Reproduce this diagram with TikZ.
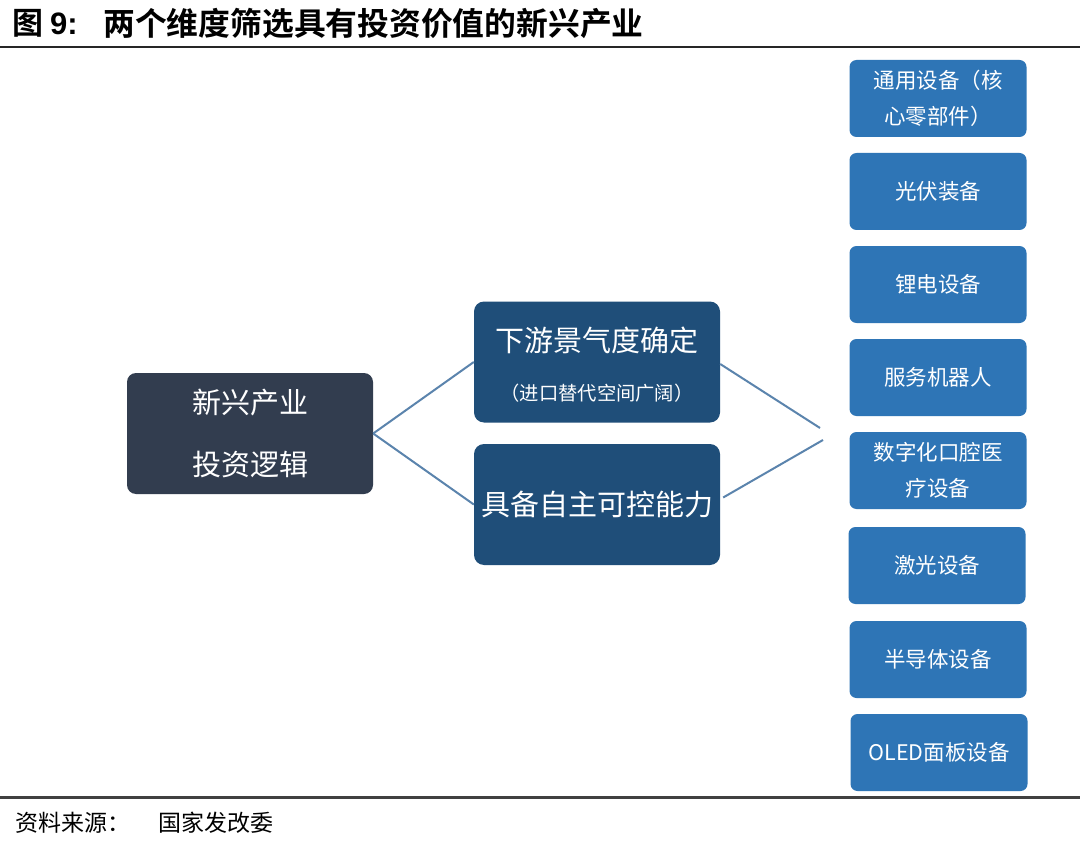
\documentclass[tikz,border=0pt]{standalone}
\usepackage{fontspec}
\setmainfont{Noto Sans CJK SC}
\newfontfamily\cjkb{Noto Sans CJK SC Bold}
\newfontfamily\arialb{Liberation Sans Bold}
\definecolor{darkbox}{HTML}{323D4F}
\definecolor{midbox}{HTML}{1F4E79}
\definecolor{rightbox}{HTML}{2E75B6}
\definecolor{conn}{HTML}{5B84AD}
\begin{document}
\begin{tikzpicture}[x=1pt,y=-1pt,
  leftbox/.style={fill=darkbox,rounded corners=9pt,minimum width=246pt,minimum height=121pt,inner sep=0pt,text=white,align=center,font=\fontsize{29}{62}\selectfont},
  midboxs/.style={fill=midbox,rounded corners=10pt,minimum width=246pt,minimum height=121pt,inner sep=0pt,text=white,align=center,font=\fontsize{29}{35}\selectfont},
  rbox/.style={fill=rightbox,rounded corners=7pt,minimum width=177pt,minimum height=77pt,inner sep=0pt,text=white,align=center,font=\fontsize{21.5}{36}\selectfont},
  link/.style={draw=conn,line width=2pt}]
\useasboundingbox (0,0) rectangle (1080,848);
\fill[white] (0,0) rectangle (1080,848);
% title
\node[anchor=west,inner sep=0pt] (ttl1) at (12,23) {\cjkb\fontsize{31}{31}\selectfont 图 {\arialb 9:}};
\node[anchor=west,inner sep=0pt] (ttl2) at (103,23) {\cjkb\fontsize{31.8}{31.8}\selectfont 两个维度筛选具有投资价值的新兴产业};
\fill[black!85] (0,46) rectangle (1080,48.5);
\fill[black!75] (0,796) rectangle (1080,798.5);
\node[anchor=west,inner sep=0pt] (src1) at (15,823) {\fontsize{23}{23}\selectfont 资料来源：};
\node[anchor=west,inner sep=0pt] (src2) at (158,823) {\fontsize{23}{23}\selectfont 国家发改委};
% left
\node[leftbox] (L) at (250,433.5) {新兴产业\\投资逻辑};
% middle
\node[midboxs] (T) at (597,362) {};
\node[text=white,inner sep=0pt] (T1) at (597,340) {\fontsize{29}{29}\selectfont 下游景气度确定};
\node[text=white,inner sep=0pt] (T2) at (597,393) {\fontsize{19.3}{19.3}\selectfont （进口替代空间广阔）};
\node[midboxs] (B) at (597,504.5) {具备自主可控能力};
% right
\node[rbox] (R1) at (938,98.5) {通用设备（核\\心零部件）};
\node[rbox] (R2) at (938,191.5) {光伏装备};
\node[rbox] (R3) at (938,284.5) {锂电设备};
\node[rbox] (R4) at (938,377.5) {服务机器人};
\node[rbox] (R5) at (938,470.5) {数字化口腔医\\疗设备};
\node[rbox] (R6) at (937,565.5) {激光设备};
\node[rbox] (R7) at (938,659.5) {半导体设备};
\node[rbox] (R8) at (939,752.5) {OLED面板设备};
% connectors
\coordinate (jt) at (820,428);
\coordinate (jb) at (823,440);
\draw[link] (L.east) -- (T.west);
\draw[link] (L.east) -- (B.west);
\draw[link] ([yshift=-2pt]T.east) -- (jt);
\draw[link] ([xshift=3pt,yshift=7pt]B.east) -- (jb);
\end{tikzpicture}
\end{document}
